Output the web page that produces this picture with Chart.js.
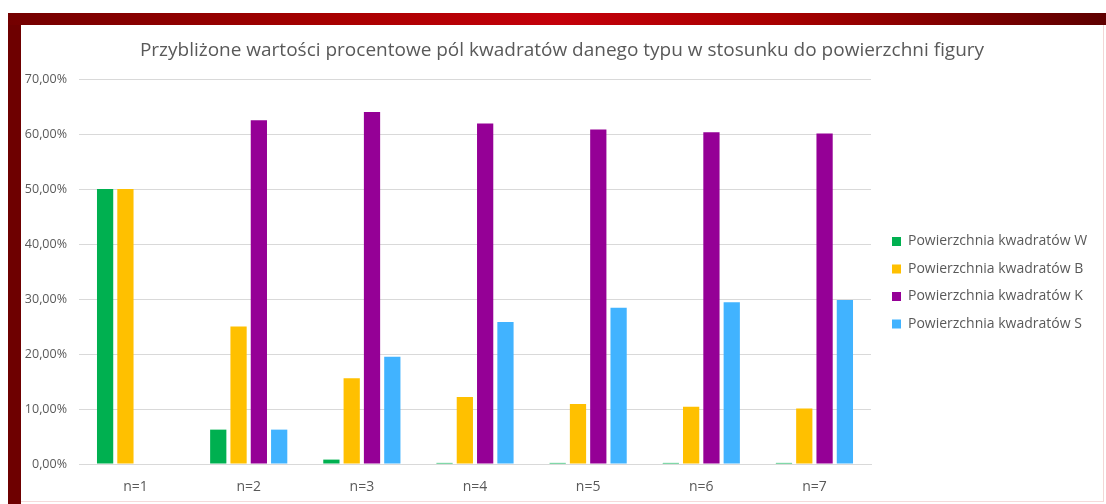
<!DOCTYPE html>
<html>
<head>
<meta charset="utf-8">
<script src="https://cdn.jsdelivr.net/npm/chart.js@4/dist/chart.umd.min.js"></script>
<style>
  html, body { margin: 0; padding: 0; background: #ffffff; width: 1106px; height: 504px; overflow: hidden; }
  #band { position: absolute; left: 8px; top: 13px; width: 1098px; height: 12px;
          background: linear-gradient(to right, #730000 0%, #a80000 30%, #c4000a 50%, #a80000 70%, #5e0000 100%); }
  #leftbar { position: absolute; left: 8px; top: 25px; width: 13px; height: 479px; background: #6e0000; }
  #panel { position: absolute; left: 21px; top: 25px; width: 1082px; height: 476px; background: #ffffff;
           border-right: 1px solid #f3d6d6; border-bottom: 1px solid #f5dada; }
  #wrap { position: absolute; left: 0; top: 0; width: 1082px; height: 476px; }
</style>
</head>
<body>
<div id="band"></div>
<div id="leftbar"></div>
<div id="panel"><div id="wrap"><canvas id="c"></canvas></div></div>
<script>
const chartTitle = 'Przybliżone wartości procentowe pól kwadratów danego typu w stosunku do powierzchni figury';
const categories = ['n=1', 'n=2', 'n=3', 'n=4', 'n=5', 'n=6', 'n=7'];
const seriesNames = ['Powierzchnia kwadratów W', 'Powierzchnia kwadratów B', 'Powierzchnia kwadratów K', 'Powierzchnia kwadratów S'];
const valuesW = [50.0, 6.25, 0.8, 0.2, 0.2, 0.2, 0.2];
const valuesB = [50.0, 25.0, 15.6, 12.2, 10.9, 10.4, 10.1];
const valuesK = [0, 62.5, 64.0, 61.9, 60.8, 60.3, 60.1];
const valuesS = [0, 6.25, 19.5, 25.8, 28.4, 29.4, 29.8];
const yTickMin = 0, yTickMax = 70, yTickStep = 10;

const seriesColors = ['#00b050', '#ffc000', '#950096', '#41b3ff'];
const seriesValues = [valuesW, valuesB, valuesK, valuesS];
const textGray = '#595959';
const gridGray = '#d9d9d9';
const FONT = "'Open Sans', 'Liberation Sans', sans-serif";

// layout constants (canvas px)
const PLOT_LEFT = 58, PLOT_BOTTOM_GAP = 37, LEGEND_W = 232;
const LEGEND_BOX_X = 871, LEGEND_FIRST_CENTER = 216.5;
const LEG_FONT = 14, LEG_PAD = 13.5;

const legendPlacer = {
  id: 'legendPlacer',
  beforeLayout(chart) {
    const lg = chart.legend;
    if (lg && !lg._patchedFit) {
      const orig = lg.fit.bind(lg);
      lg.fit = function () { orig(); this.width = LEGEND_W; };
      lg._patchedFit = true;
    }
  },
  beforeDraw(chart) {
    const lg = chart.legend;
    if (!lg) return;
    const w = lg.right - lg.left;
    lg.left = LEGEND_BOX_X - LEG_PAD;
    lg.right = lg.left + w;
    lg.top = LEGEND_FIRST_CENTER - LEG_FONT / 2 - LEG_PAD;
  }
};

new Chart(document.getElementById('c'), {
  type: 'bar',
  data: {
    labels: categories,
    datasets: seriesNames.map((name, i) => ({
      label: name,
      data: seriesValues[i],
      backgroundColor: seriesColors[i],
      borderWidth: 0,
      categoryPercentage: 0.718,
      barPercentage: 0.80
    }))
  },
  options: {
    responsive: true,
    maintainAspectRatio: false,
    animation: false,
    devicePixelRatio: 1,
    layout: { padding: { left: 0, right: 0, top: 0, bottom: 0 } },
    plugins: {
      title: {
        display: true,
        text: chartTitle,
        color: textGray,
        font: { family: FONT, size: 19, weight: 'normal', lineHeight: 1.2 },
        padding: { top: 14.6, bottom: 16.6 }
      },
      legend: {
        display: true,
        position: 'right',
        align: 'start',
        labels: {
          color: textGray,
          font: { family: FONT, size: LEG_FONT },
          boxWidth: 9,
          boxHeight: 9,
          padding: LEG_PAD
        }
      },
      tooltip: { enabled: false }
    },
    scales: {
      x: {
        grid: { display: false, drawTicks: false },
        border: { display: true, color: gridGray, width: 1 },
        ticks: { color: textGray, font: { family: FONT, size: 14 }, padding: 15 },
        afterFit(scale) { scale.height = PLOT_BOTTOM_GAP; }
      },
      y: {
        min: yTickMin,
        max: yTickMax,
        grid: { color: gridGray, lineWidth: 1, drawTicks: false },
        border: { display: false },
        ticks: {
          stepSize: yTickStep,
          color: textGray,
          font: { family: FONT, size: 12.5 },
          padding: 12,
          callback: (v) => v.toFixed(2).replace('.', ',') + '%'
        },
        afterFit(scale) { scale.width = PLOT_LEFT; }
      }
    }
  },
  plugins: [legendPlacer]
});
</script>
</body>
</html>
